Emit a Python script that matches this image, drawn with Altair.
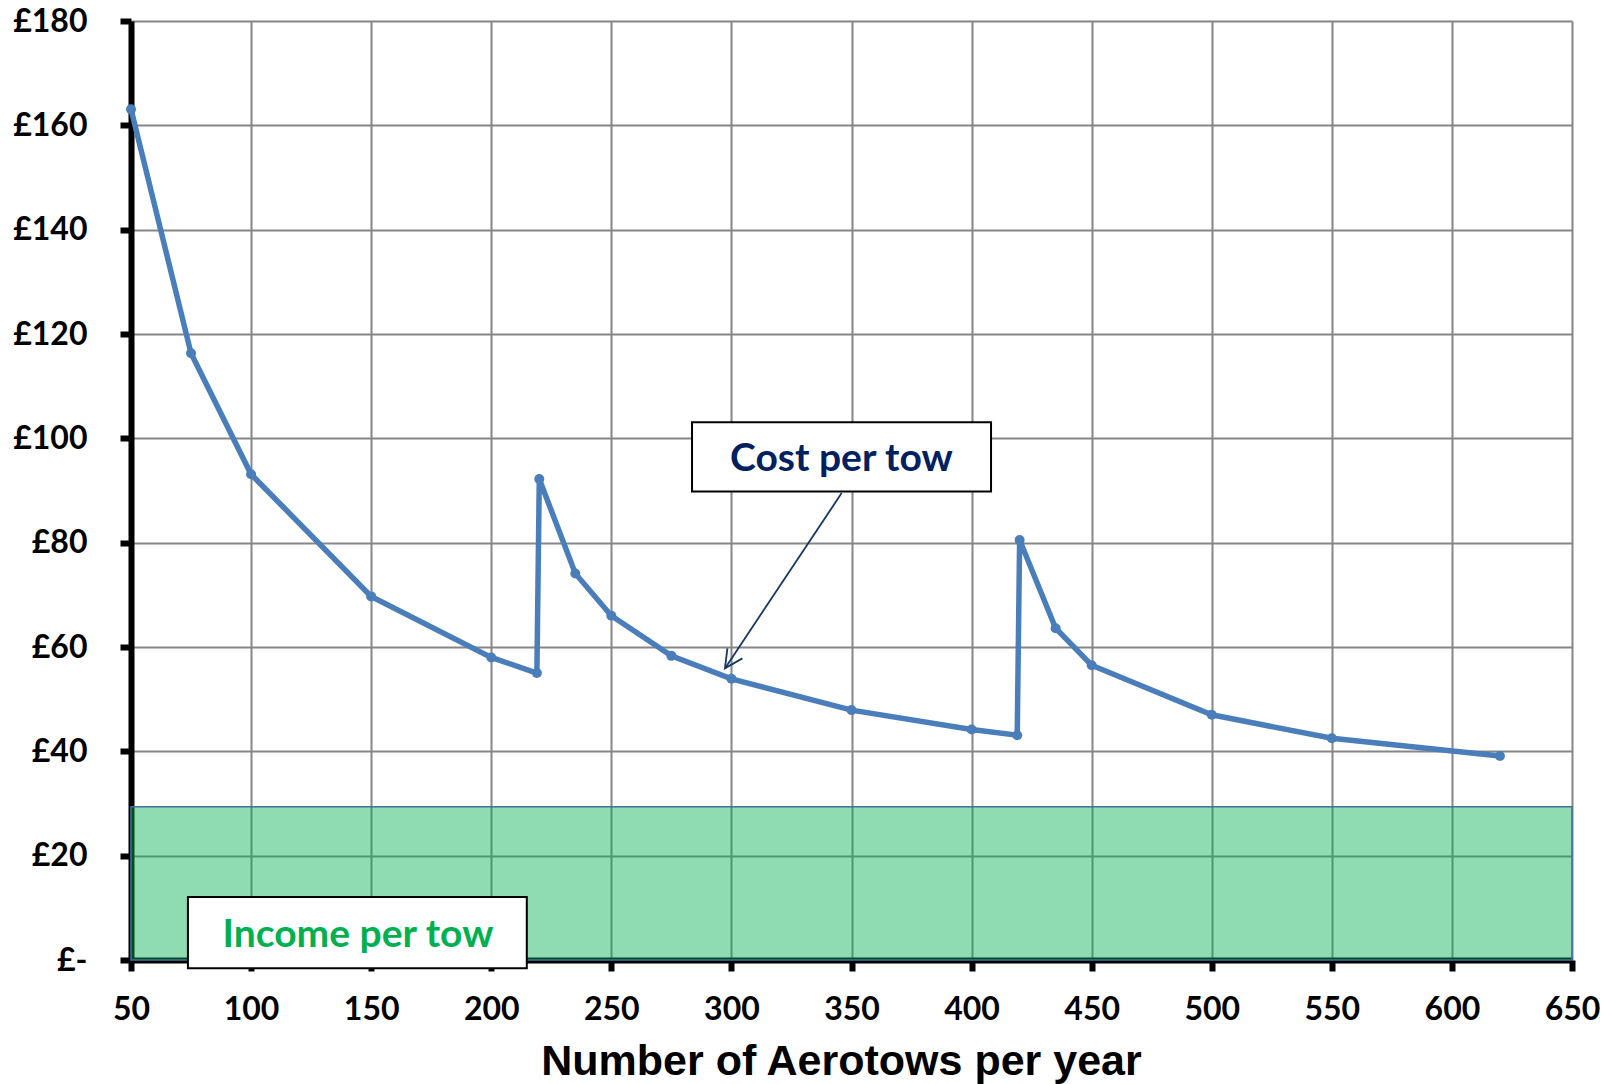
import altair as alt
import pandas as pd

# ---- data ----
aerotows = [50, 75, 100, 150, 200, 219, 220, 235, 250, 275, 300, 350, 400, 419, 420, 435, 450, 500, 550, 620]
cost_per_tow = [163.1, 116.3, 93.1, 69.7, 58.0, 55.0, 92.2, 74.1, 66.0, 58.3, 53.9, 47.9, 44.2, 43.1, 80.5, 63.6, 56.5, 47.0, 42.5, 39.1]
income_per_tow = 29.4
income_range = [50, 650]
x_ticks = list(range(50, 651, 50))
y_ticks = list(range(0, 181, 20))
annotation_labels = ["Cost per tow", "Income per tow"]

# ---- annotation placement (data units) ----
cost_box = dict(x=283.6, x2=408.1, y=89.8, y2=103.1)
cost_text = dict(x=345.8, y=93.8)
income_box = dict(x=73.7, x2=214.8, y=-1.6, y2=12.1)
income_text = dict(x=144.5, y=2.55)
arrow = dict(x=345.9, y=89.5, x2=297.3, y2=55.9)

FONT = "Lato"

x_scale = alt.Scale(domain=[50, 650], nice=False, zero=False)
y_scale = alt.Scale(domain=[0, 180], nice=False, zero=True)

x_axis = alt.Axis(
    values=x_ticks, title="Number of Aerotows per year",
    titleFont="Liberation Sans", titleFontSize=43, titleFontWeight="bold", titleColor="black",
    titleX=710, titleY=114, titleBaseline="alphabetic", titleAlign="center",
    labelFont=FONT, labelFontSize=32, labelFontWeight="bold", labelColor="black",
    labelPadding=23, labelFlush=False, labelOverlap=False,
    tickSize=11, tickWidth=6, tickColor="black",
    domainColor="black", domainWidth=6,
    grid=True, gridColor="#868686", gridWidth=2,
)
y_axis = alt.Axis(
    values=y_ticks, title=None,
    labelExpr="datum.value == 0 ? '£-' : '£' + datum.value",
    labelFont=FONT, labelFontSize=32, labelFontWeight="bold", labelColor="black",
    labelPadding=33, labelFlush=False, labelOverlap=False,
    tickSize=11, tickWidth=6, tickColor="black",
    domainColor="black", domainWidth=6,
    grid=True, gridColor="#868686", gridWidth=2,
)

X = lambda f="x": alt.X(f"{f}:Q", scale=x_scale, axis=x_axis)
Y = lambda f="y": alt.Y(f"{f}:Q", scale=y_scale, axis=y_axis)

line_df = pd.DataFrame({"x": aerotows, "y": cost_per_tow, "order": list(range(len(aerotows)))})
income_df = pd.DataFrame({"x": [income_range[0]], "x2": [income_range[1]], "y": [0], "y2": [income_per_tow]})
boxes_df = pd.DataFrame([cost_box, income_box])
arrow_df = pd.DataFrame([arrow])
tip_df = pd.DataFrame({"x": [arrow["x2"]], "y": [arrow["y2"]]})
cost_df = pd.DataFrame({"x": [cost_text["x"]], "y": [cost_text["y"]], "label": [annotation_labels[0]]})
inc_df = pd.DataFrame({"x": [income_text["x"]], "y": [income_text["y"]], "label": [annotation_labels[1]]})

income_rect = alt.Chart(income_df).mark_rect(
    fill="#00B050", fillOpacity=0.44, stroke="#41719C", strokeWidth=1.5
).encode(x=X(), x2="x2:Q", y=Y(), y2="y2:Q")

cost_line = alt.Chart(line_df).mark_line(color="#4A7EBB", strokeWidth=5.5).encode(
    x=X(), y=Y(), order="order:Q")
cost_pts = alt.Chart(line_df).mark_circle(color="#4A7EBB", size=100, opacity=1).encode(x=X(), y=Y())

arrow_line = alt.Chart(arrow_df).mark_rule(color="#17375E", strokeWidth=1.8).encode(
    x=X(), y=Y(), x2="x2:Q", y2="y2:Q")
arrow_head = alt.Chart(tip_df).mark_point(
    shape="M-0.5,1 L0,0 L0.5,1", filled=False, stroke="#17375E", strokeWidth=1.8,
    size=1300, angle=213.6, opacity=1
).encode(x=X(), y=Y())

boxes = alt.Chart(boxes_df).mark_rect(fill="white", stroke="black", strokeWidth=2).encode(
    x=X(), x2="x2:Q", y=Y(), y2="y2:Q")

cost_label = alt.Chart(cost_df).mark_text(
    font=FONT, fontSize=39, fontWeight="bold", color="#002060", baseline="alphabetic", align="center"
).encode(x=X(), y=Y(), text="label:N")
inc_label = alt.Chart(inc_df).mark_text(
    font=FONT, fontSize=39, fontWeight="bold", color="#00B050", baseline="alphabetic", align="center"
).encode(x=X(), y=Y(), text="label:N")

chart = alt.layer(
    income_rect, cost_line, cost_pts, arrow_line, arrow_head, boxes, cost_label, inc_label
).properties(
    width=1441, height=939,
    padding={"left": 131, "top": 21, "right": 49, "bottom": 124},
    autosize=alt.AutoSizeParams(type="none"),
    background="white",
).configure_view(stroke=None)

chart.save("out.html", embed_options={"renderer": "svg", "actions": False})
